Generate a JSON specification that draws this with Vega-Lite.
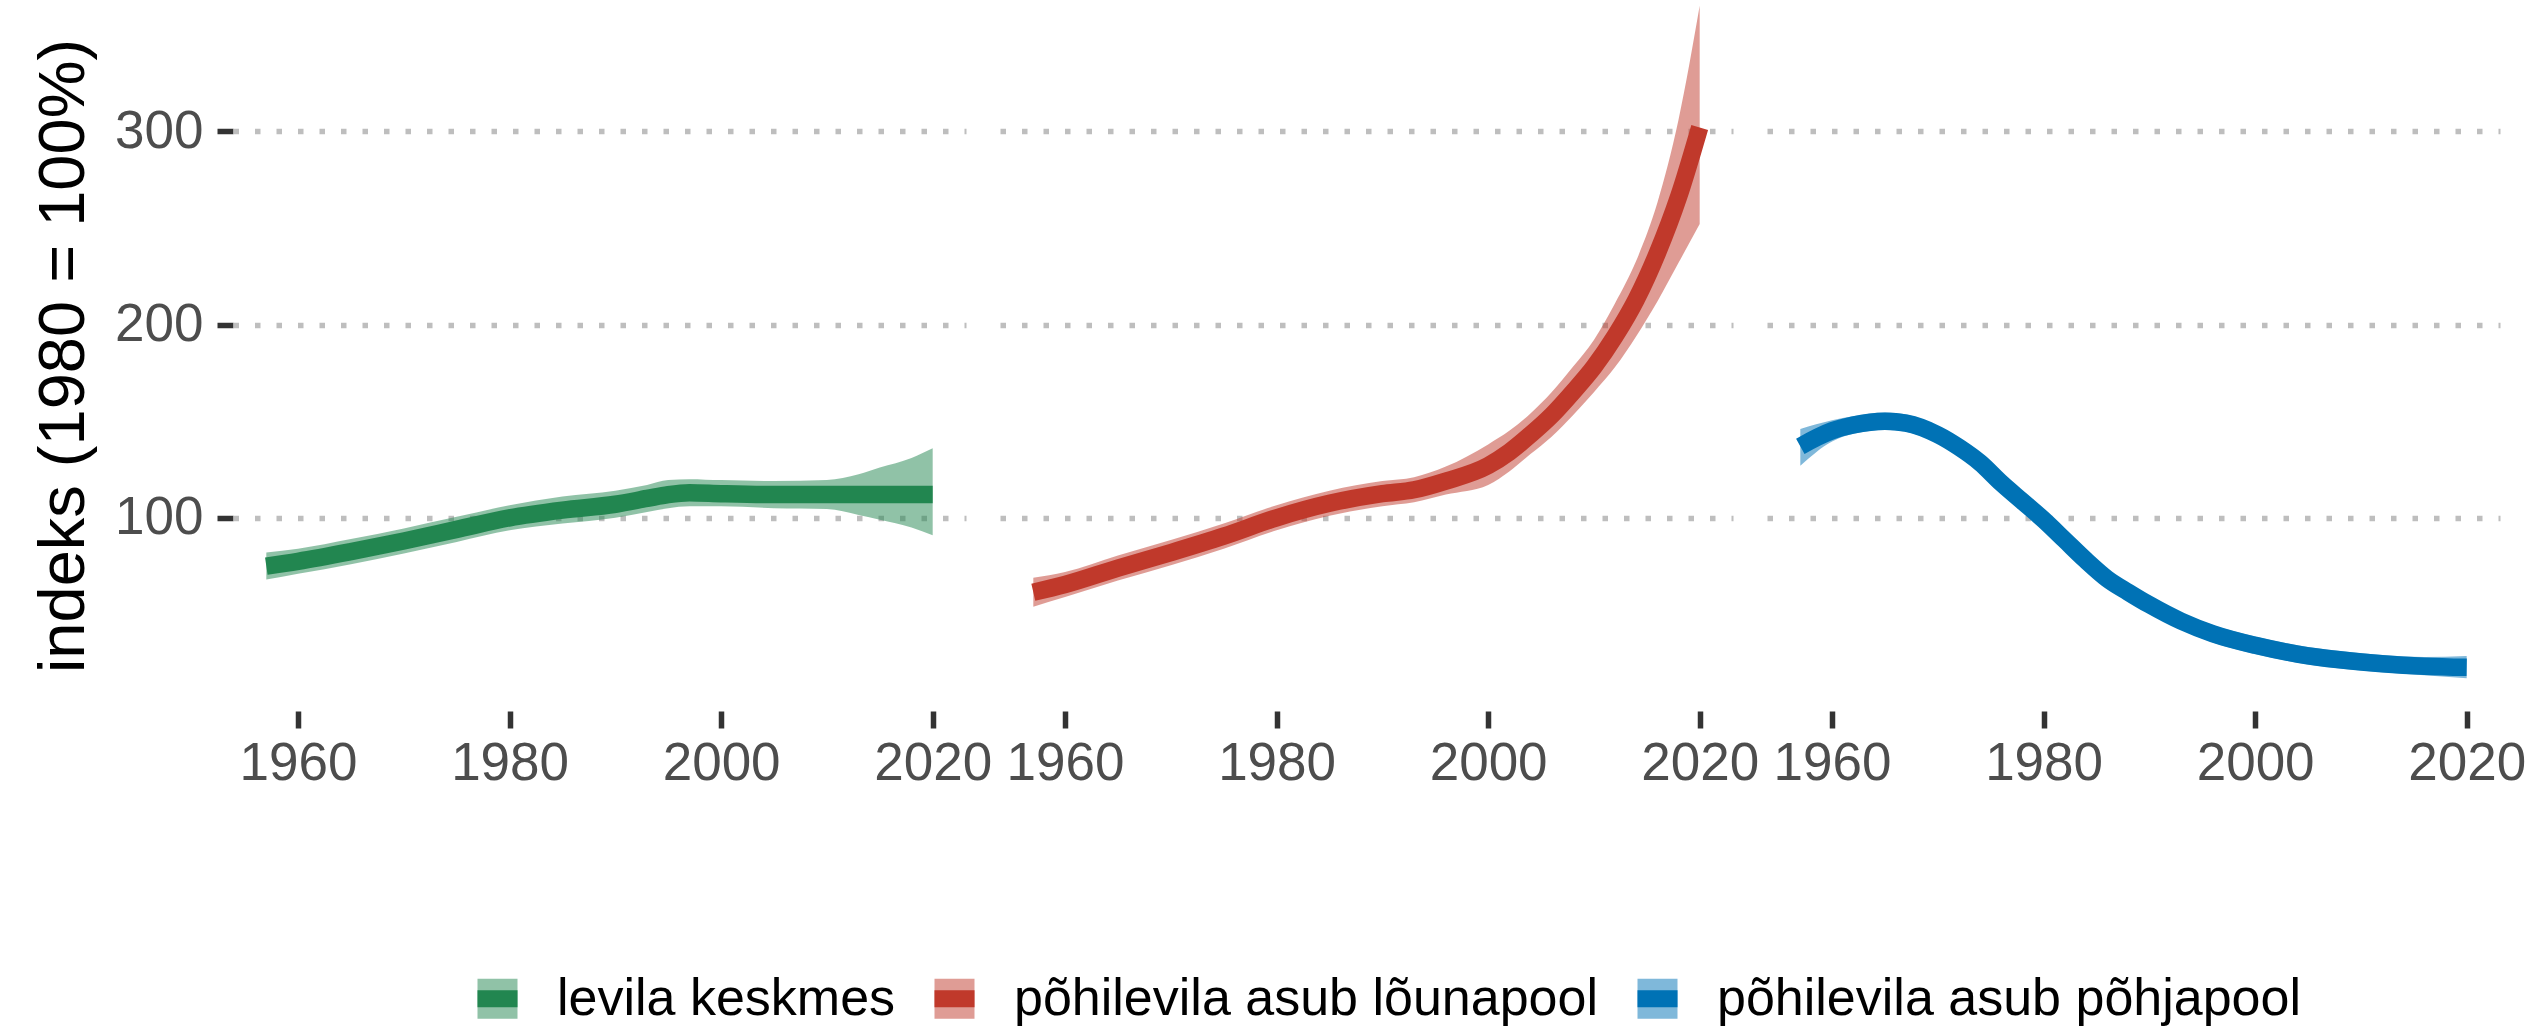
{
  "$schema": "https://vega.github.io/schema/vega-lite/v6.json",
  "padding": {"left": 31, "top": 0, "right": 5, "bottom": 5},
  "background": "white",
  "data": {"values": [
    {"g": "levila keskmes", "year": 1957, "v": 75, "lo": 68, "hi": 82},
    {"g": "levila keskmes", "year": 1960, "v": 77.5, "lo": 71, "hi": 84},
    {"g": "levila keskmes", "year": 1965, "v": 82.5, "lo": 76, "hi": 89},
    {"g": "levila keskmes", "year": 1970, "v": 88, "lo": 81.5, "hi": 94.5},
    {"g": "levila keskmes", "year": 1975, "v": 94, "lo": 87.5, "hi": 100.5},
    {"g": "levila keskmes", "year": 1980, "v": 100, "lo": 93.5, "hi": 106.5},
    {"g": "levila keskmes", "year": 1985, "v": 104, "lo": 97, "hi": 111},
    {"g": "levila keskmes", "year": 1990, "v": 107, "lo": 100, "hi": 114},
    {"g": "levila keskmes", "year": 1993, "v": 110, "lo": 103, "hi": 117},
    {"g": "levila keskmes", "year": 1995, "v": 112, "lo": 105, "hi": 119.5},
    {"g": "levila keskmes", "year": 1997, "v": 113, "lo": 106, "hi": 120},
    {"g": "levila keskmes", "year": 2000, "v": 112.5, "lo": 106, "hi": 119.5},
    {"g": "levila keskmes", "year": 2005, "v": 112, "lo": 105, "hi": 119},
    {"g": "levila keskmes", "year": 2010, "v": 112, "lo": 104.5, "hi": 119.5},
    {"g": "levila keskmes", "year": 2013, "v": 112, "lo": 101.5, "hi": 122.5},
    {"g": "levila keskmes", "year": 2015, "v": 112, "lo": 99, "hi": 126},
    {"g": "levila keskmes", "year": 2018, "v": 112, "lo": 95, "hi": 131},
    {"g": "levila keskmes", "year": 2020, "v": 112, "lo": 91, "hi": 136},

    {"g": "põhilevila asub lõunapool", "year": 1957, "v": 61.5, "lo": 54, "hi": 69},
    {"g": "põhilevila asub lõunapool", "year": 1960, "v": 65.5, "lo": 59, "hi": 72},
    {"g": "põhilevila asub lõunapool", "year": 1965, "v": 74, "lo": 67.5, "hi": 80.5},
    {"g": "põhilevila asub lõunapool", "year": 1970, "v": 82, "lo": 75.5, "hi": 88.5},
    {"g": "põhilevila asub lõunapool", "year": 1975, "v": 90.5, "lo": 84, "hi": 97},
    {"g": "põhilevila asub lõunapool", "year": 1980, "v": 100, "lo": 93.5, "hi": 106.5},
    {"g": "põhilevila asub lõunapool", "year": 1985, "v": 107.5, "lo": 101, "hi": 114},
    {"g": "põhilevila asub lõunapool", "year": 1990, "v": 112.5, "lo": 106, "hi": 119},
    {"g": "põhilevila asub lõunapool", "year": 1993, "v": 114.5, "lo": 108, "hi": 121},
    {"g": "põhilevila asub lõunapool", "year": 1996, "v": 119, "lo": 112, "hi": 126.5},
    {"g": "põhilevila asub lõunapool", "year": 2000, "v": 127, "lo": 117, "hi": 138},
    {"g": "põhilevila asub lõunapool", "year": 2002, "v": 134, "lo": 124, "hi": 145},
    {"g": "põhilevila asub lõunapool", "year": 2004, "v": 143, "lo": 133, "hi": 154},
    {"g": "põhilevila asub lõunapool", "year": 2006, "v": 153, "lo": 142, "hi": 165},
    {"g": "põhilevila asub lõunapool", "year": 2008, "v": 165, "lo": 153, "hi": 178},
    {"g": "põhilevila asub lõunapool", "year": 2010, "v": 178, "lo": 165, "hi": 192},
    {"g": "põhilevila asub lõunapool", "year": 2012, "v": 194, "lo": 178, "hi": 211},
    {"g": "põhilevila asub lõunapool", "year": 2014, "v": 213, "lo": 194, "hi": 233},
    {"g": "põhilevila asub lõunapool", "year": 2016, "v": 237, "lo": 212, "hi": 263},
    {"g": "põhilevila asub lõunapool", "year": 2018, "v": 266, "lo": 232, "hi": 306},
    {"g": "põhilevila asub lõunapool", "year": 2020, "v": 302, "lo": 252, "hi": 365},

    {"g": "põhilevila asub põhjapool", "year": 1957, "v": 137, "lo": 127, "hi": 146},
    {"g": "põhilevila asub põhjapool", "year": 1960, "v": 145, "lo": 139.5, "hi": 150.5},
    {"g": "põhilevila asub põhjapool", "year": 1962, "v": 148, "lo": 143.5, "hi": 152.5},
    {"g": "põhilevila asub põhjapool", "year": 1965, "v": 150, "lo": 145.5, "hi": 154.5},
    {"g": "põhilevila asub põhjapool", "year": 1967, "v": 149, "lo": 144.5, "hi": 153.5},
    {"g": "põhilevila asub põhjapool", "year": 1970, "v": 143, "lo": 138.5, "hi": 147.5},
    {"g": "põhilevila asub põhjapool", "year": 1972, "v": 136.5, "lo": 132, "hi": 141},
    {"g": "põhilevila asub põhjapool", "year": 1974, "v": 128.5, "lo": 124, "hi": 133},
    {"g": "põhilevila asub põhjapool", "year": 1976, "v": 118, "lo": 113.5, "hi": 122.5},
    {"g": "põhilevila asub põhjapool", "year": 1978, "v": 108.5, "lo": 104, "hi": 113},
    {"g": "põhilevila asub põhjapool", "year": 1980, "v": 99, "lo": 94.5, "hi": 103.5},
    {"g": "põhilevila asub põhjapool", "year": 1982, "v": 88.5, "lo": 84, "hi": 93},
    {"g": "põhilevila asub põhjapool", "year": 1984, "v": 78, "lo": 73.5, "hi": 82.5},
    {"g": "põhilevila asub põhjapool", "year": 1986, "v": 68.5, "lo": 64, "hi": 73},
    {"g": "põhilevila asub põhjapool", "year": 1988, "v": 61.5, "lo": 57, "hi": 66},
    {"g": "põhilevila asub põhjapool", "year": 1990, "v": 55, "lo": 50.5, "hi": 59.5},
    {"g": "põhilevila asub põhjapool", "year": 1993, "v": 46.5, "lo": 42, "hi": 51},
    {"g": "põhilevila asub põhjapool", "year": 1996, "v": 40, "lo": 35.5, "hi": 44.5},
    {"g": "põhilevila asub põhjapool", "year": 2000, "v": 34, "lo": 29.5, "hi": 38.5},
    {"g": "põhilevila asub põhjapool", "year": 2004, "v": 29.5, "lo": 25, "hi": 34},
    {"g": "põhilevila asub põhjapool", "year": 2008, "v": 26.5, "lo": 22, "hi": 31},
    {"g": "põhilevila asub põhjapool", "year": 2012, "v": 24.5, "lo": 20, "hi": 29},
    {"g": "põhilevila asub põhjapool", "year": 2016, "v": 23.2, "lo": 18.5, "hi": 28},
    {"g": "põhilevila asub põhjapool", "year": 2020, "v": 22.6, "lo": 17, "hi": 28.5}
  ]},
  "facet": {
    "column": {"field": "g", "type": "nominal", "header": null,
      "sort": ["levila keskmes", "põhilevila asub lõunapool", "põhilevila asub põhjapool"]}
  },
  "spacing": 34,
  "bounds": "flush",
  "spec": {
    "width": 733,
    "height": 711,
    "encoding": {
      "x": {"field": "year", "type": "quantitative",
        "scale": {"domain": [1953.85, 2023.15], "nice": false, "zero": false},
        "axis": {"values": [1960, 1980, 2000, 2020], "format": "d", "title": null, "grid": false,
          "domain": false, "tickSize": 17, "tickWidth": 5.5, "tickColor": "#333333",
          "labelFontSize": 53, "labelColor": "#4D4D4D", "labelPadding": 9,
          "labelFlush": false, "labelOverlap": false}},
      "color": {"field": "g", "type": "nominal",
        "scale": {"domain": ["levila keskmes", "põhilevila asub lõunapool", "põhilevila asub põhjapool"],
          "range": ["#228650", "#C0392B", "#0072B5"]},
        "legend": {"title": null, "orient": "none", "legendX": 236, "legendY": 970, "direction": "horizontal",
          "labelFontSize": 52, "labelColor": "black", "labelOffset": 31, "columnPadding": 4,
          "labelLimit": 2000,
          "symbolSize": 1600, "symbolType": "M-1,0H1V-1H-1Z M-1,0H1V1H-1Z",
          "symbolStrokeWidth": 17, "symbolDash": [40, 1000],
          "encode": {"symbols": {"update": {
            "fill": {"scale": "color", "field": "value"},
            "stroke": {"scale": "color", "field": "value"},
            "opacity": {"value": 1},
            "fillOpacity": {"value": 0.5},
            "strokeOpacity": {"value": 1},
            "strokeDash": {"value": [40, 1000]},
            "strokeWidth": {"value": 17}
          }}}}}
    },
    "layer": [
      {
        "mark": {"type": "area", "fillOpacity": 0.5, "interpolate": "monotone"},
        "encoding": {
          "y": {"field": "lo", "type": "quantitative",
            "scale": {"domain": [0, 368], "nice": false, "zero": false},
            "axis": {"title": "indeks (1980 = 100%)", "values": [100, 200, 300],
              "grid": true, "gridDash": [5.5, 16], "gridColor": "#BEBEBE", "gridWidth": 5.5,
              "domain": false, "tickSize": 16, "tickWidth": 5.5, "tickColor": "#333333",
              "labelFontSize": 53, "labelColor": "#4D4D4D", "labelPadding": 14,
              "titleFontSize": 65, "titleColor": "black", "titleFontWeight": "normal", "titlePadding": 17}},
          "y2": {"field": "hi"}
        }
      },
      {
        "mark": {"type": "line", "strokeWidth": 17.5, "interpolate": "monotone", "strokeCap": "butt"},
        "encoding": {
          "y": {"field": "v", "type": "quantitative"}
        }
      }
    ]
  },
  "config": {
    "font": "Liberation Sans",
    "view": {"stroke": null}
  }
}
